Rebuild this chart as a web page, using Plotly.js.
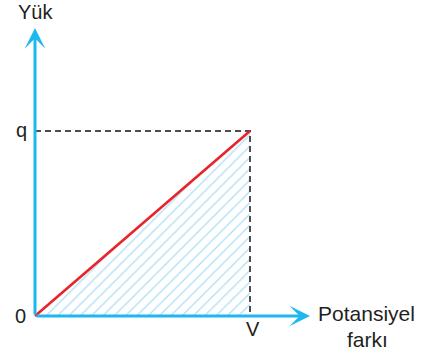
<!DOCTYPE html>
<html>
<head>
<meta charset="utf-8">
<script src="https://cdn.plot.ly/plotly-3.0.1.min.js"></script>
<style>html,body{margin:0;padding:0;background:#fff;}#chart{width:426px;height:354px;}</style>
</head>
<body>
<div id="chart"></div>
<script>
// Data (normalised units: V = 1, q = 1)
const voltage = [0, 1];          // x values of the Q–V line
const charge = [0, 1];           // y values of the Q–V line
const tickLabelsX = ['0', 'V'];
const tickLabelsY = ['0', 'q'];
const axisTitleX = ['Potansiyel', 'farkı'];
const axisTitleY = 'Yük';

const V = voltage[1], q = charge[1];
const axisBlue = '#1cb8ee';
const textColor = '#231f20';
const font = {family: 'Liberation Sans, Arial, sans-serif', size: 20, color: textColor};

const traces = [
  { // hatched area under the line
    x: [voltage[0], V, V, voltage[0]],
    y: [charge[0], q, charge[0], charge[0]],
    mode: 'lines', line: {width: 0}, fill: 'toself',
    fillcolor: 'rgba(255,255,255,0)',
    fillpattern: {shape: '/', fgcolor: '#b4e1f7', bgcolor: 'rgba(255,255,255,0)', size: 8, solidity: 0.18},
    hoverinfo: 'skip', showlegend: false
  },
  { // dashed guide lines
    x: [voltage[0], V, V], y: [q, q, charge[0]],
    mode: 'lines', line: {color: '#4d4d4d', width: 2, dash: '6px,4px'},
    hoverinfo: 'skip', showlegend: false
  },
  { // Q–V line
    x: voltage, y: charge, mode: 'lines',
    line: {color: '#e8232a', width: 2.6}, showlegend: false
  }
];

// pixel mapping: origin at (35,316), (V,q) at (250,131)
const pxX = 215, pxY = 185, ox = 35, oy = 316, W = 426, H = 354;
const xr = [-ox / pxX, (W - ox) / pxX];
const yr = [-(H - oy) / pxY, oy / pxY];
const xEnd = (310 - ox) / pxX, yEnd = (oy - 28) / pxY;

const arrowStyle = {xref: 'x', yref: 'y', axref: 'x', ayref: 'y', text: '', showarrow: true,
  arrowhead: 3, arrowsize: 1.15, arrowwidth: 3, arrowcolor: axisBlue, standoff: 0, startstandoff: 0};

const annotations = [
  // axes with arrows
  Object.assign({x: xEnd, y: 0, ax: 0, ay: 0}, arrowStyle),
  Object.assign({x: 0, y: yEnd, ax: 0, ay: 0}, arrowStyle),
  // labels
  {x: 0, y: yEnd, xref: 'x', yref: 'y', text: axisTitleY, showarrow: false, yshift: 16, font: font},
  {x: 0, y: q, xref: 'x', yref: 'y', text: tickLabelsY[1], showarrow: false, xanchor: 'right', xshift: -6, yshift: 1, font: font},
  {x: 0, y: 0, xref: 'x', yref: 'y', text: tickLabelsX[0], showarrow: false, xanchor: 'right', xshift: -7, yshift: 0, font: font},
  {x: V, y: 0, xref: 'x', yref: 'y', text: tickLabelsX[1], showarrow: false, xshift: 3, yshift: -13, font: font},
  {x: xEnd, y: 0, xref: 'x', yref: 'y', text: axisTitleX[0], showarrow: false, xanchor: 'left', xshift: 6, yshift: 3, font: Object.assign({}, font, {size: 21})},
  {x: xEnd, y: 0, xref: 'x', yref: 'y', text: axisTitleX[1], showarrow: false, xanchor: 'left', xshift: 35, yshift: -23, font: Object.assign({}, font, {size: 21})}
];

const layout = {
  width: W, height: H,
  margin: {l: 0, r: 0, t: 0, b: 0},
  paper_bgcolor: '#ffffff', plot_bgcolor: '#ffffff',
  xaxis: {range: xr, visible: false, fixedrange: true},
  yaxis: {range: yr, visible: false, fixedrange: true},
  showlegend: false,
  annotations: annotations
};

Plotly.newPlot('chart', traces, layout, {staticPlot: true, displayModeBar: false});
</script>
</body>
</html>
